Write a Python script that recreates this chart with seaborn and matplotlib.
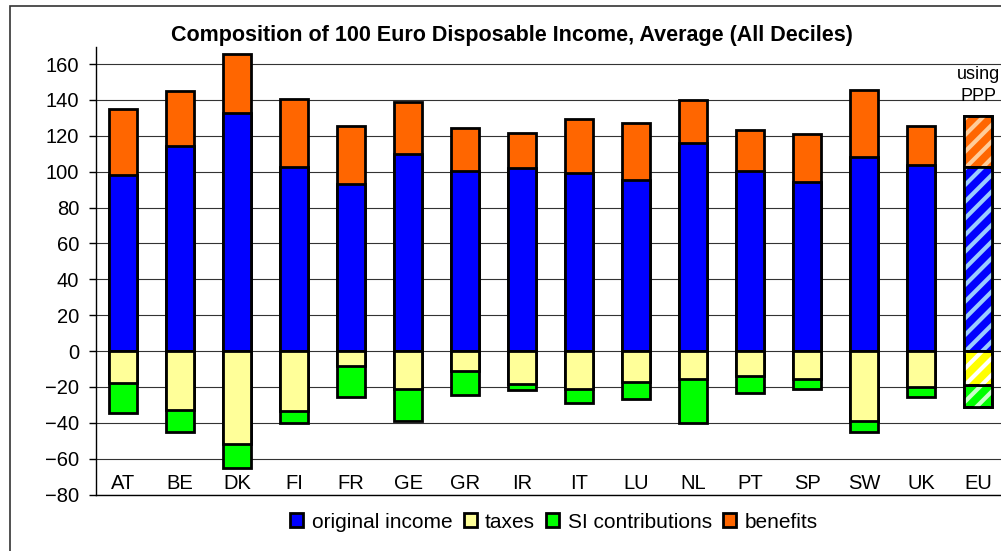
import numpy as np
import pandas as pd
import seaborn as sns
import matplotlib.pyplot as plt
from matplotlib.patches import Patch, Rectangle

countries = ['AT', 'BE', 'DK', 'FI', 'FR', 'GE', 'GR', 'IR', 'IT', 'LU',
             'NL', 'PT', 'SP', 'SW', 'UK', 'EU']
original_income = [98.0, 114.3, 132.5, 102.7, 93.0, 109.6, 100.5, 102.2, 99.4, 95.3,
                   116.1, 100.5, 94.0, 108.0, 103.7, 102.7]
benefits = [37.0, 30.8, 32.9, 37.6, 32.6, 29.4, 23.6, 19.5, 29.7, 31.6,
            23.8, 22.7, 27.1, 37.3, 21.5, 28.6]
taxes = [-18.0, -32.9, -51.8, -33.4, -8.2, -21.0, -11.0, -18.4, -21.4, -17.1,
         -15.6, -13.7, -15.6, -39.2, -19.9, -19.0]
si_contributions = [-16.7, -12.3, -13.6, -6.9, -17.6, -18.2, -13.3, -3.3, -7.8, -9.8,
                    -24.4, -9.9, -5.6, -6.1, -5.6, -12.4]

df = pd.DataFrame({'country': countries, 'original': original_income,
                   'benefits': benefits, 'taxes': taxes, 'si': si_contributions})
df['pos_total'] = df['original'] + df['benefits']
df['neg_total'] = df['taxes'] + df['si']

c_blue, c_yellow, c_green, c_orange = '#0000FF', '#FFFF99', '#00FF00', '#FF6600'
c_eu_yellow = '#FFFF00'
edge_lw = 2.0

sns.set_theme(style='white')
plt.rcParams['font.family'] = ['Liberation Sans', 'DejaVu Sans']
plt.rcParams['hatch.linewidth'] = 3.0
for k in ['text.color', 'axes.labelcolor', 'xtick.color', 'ytick.color']:
    plt.rcParams[k] = 'black'

fig = plt.figure(figsize=(10.01, 5.51), dpi=100)
ax = fig.add_axes([96 / 1001, 1 - 494.5 / 551, 1 - 96 / 1001, (494.5 - 47) / 551])

bar_kw = dict(order=countries, saturation=1, width=0.5, edgecolor='black',
              linewidth=edge_lw, ax=ax)

# layers drawn back to front: totals first, inner segment on top
layers = [
    ('pos_total', c_orange, '#FFCC99'),
    ('original', c_blue, '#99CCFF'),
    ('neg_total', c_green, '#CCFFCC'),
    ('taxes', c_yellow, 'white'),
]
eu_i = countries.index('EU')
for z, (col, colour, stripe) in enumerate(layers):
    sns.barplot(data=df, x='country', y=col, color=colour, zorder=2 + z, **bar_kw)
    bar = ax.containers[-1].patches[eu_i]
    if col == 'taxes':
        bar.set_facecolor(c_eu_yellow)
    # striped overlay on the EU (PPP) bar
    ax.add_patch(Rectangle((bar.get_x(), bar.get_y()), bar.get_width(), bar.get_height(),
                           facecolor='none', edgecolor=stripe, hatch='//', linewidth=0,
                           zorder=2 + z + 0.3))
    ax.add_patch(Rectangle((bar.get_x(), bar.get_y()), bar.get_width(), bar.get_height(),
                           fill=False, edgecolor='black', linewidth=edge_lw,
                           zorder=2 + z + 0.5))

ax.set_ylim(-80, 169.5)
ax.set_xlim(-0.474, 15.4)
ax.set_yticks(np.arange(-80, 161, 20))
ax.grid(axis='y', color='#333333', linewidth=0.8)
ax.set_axisbelow(True)
for s in ['top', 'right']:
    ax.spines[s].set_visible(False)
for s in ['left', 'bottom']:
    ax.spines[s].set_color('black')
    ax.spines[s].set_linewidth(1)
ax.set_xlabel('')
ax.set_ylabel('')
ax.tick_params(axis='y', direction='out', length=5, width=1, color='black',
               pad=7, labelsize=14.5, left=True)
ax.tick_params(axis='x', length=0, pad=-4, labelsize=14.5)
for lbl in ax.get_xticklabels():
    lbl.set_va('baseline')

ax.text(eu_i, 148, 'using\nPPP', ha='center', va='center', fontsize=13,
        linespacing=1.4, zorder=10)

fig.text(512 / 1001, 1 - 35 / 551,
         'Composition of 100 Euro Disposable Income, Average (All Deciles)',
         ha='center', va='center', fontsize=15.5, fontweight='bold')

handles = [Patch(facecolor=c, edgecolor='black', linewidth=edge_lw)
           for c in [c_blue, c_yellow, c_green, c_orange]]
fig.legend(handles, ['original income', 'taxes', 'SI contributions', 'benefits'],
           loc='center', bbox_to_anchor=(554 / 1001, 1 - 522 / 551), ncol=4,
           frameon=False, fontsize=15, handlelength=0.62, handleheight=0.62,
           handletextpad=0.4, columnspacing=0.55, borderaxespad=0)

fig.patches.append(Rectangle((10 / 1001, -0.05), 1.2, 1.05 - 6 / 551,
                             transform=fig.transFigure, fill=False,
                             edgecolor='#333333', linewidth=1.2))

fig.savefig('out.png', dpi=100)
